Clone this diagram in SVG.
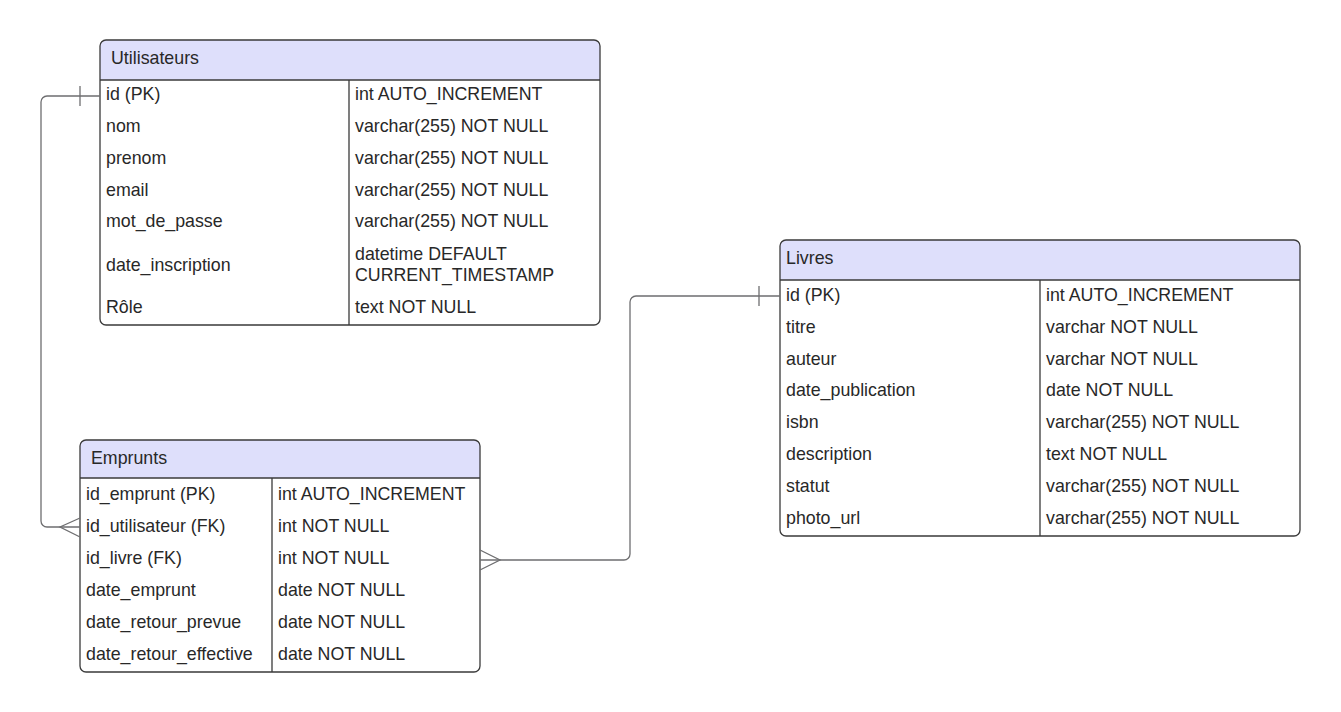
<svg xmlns="http://www.w3.org/2000/svg" width="1341" height="712" viewBox="0 0 1341 712">
  <style>
    .frame { fill: none; stroke: #3a3a3a; stroke-width: 1.3; }
    .head { fill: #dedffb; stroke: none; }
    .sep { stroke: #3a3a3a; stroke-width: 1.3; fill: none; }
    .t { font-family: "Liberation Sans", Arial, sans-serif; font-size: 17.8px; fill: #282828; }
    .conn { fill: none; stroke: #6e6e70; stroke-width: 1.3; }
  </style>
  <rect width="1341" height="712" fill="#ffffff"/>

  <!-- Utilisateurs -->
  <g id="utilisateurs">
    <path class="head" d="M100,80 V46 a6,6 0 0 1 6,-6 H594 a6,6 0 0 1 6,6 V80 Z"/>
    <rect class="frame" x="100" y="40" width="500" height="285" rx="6"/>
    <line class="sep" x1="100" y1="80" x2="600" y2="80"/>
    <line class="sep" x1="349" y1="80" x2="349" y2="325"/>
    <text class="t" x="111" y="64">Utilisateurs</text>
    <text class="t" x="106" y="100">id (PK)</text>
    <text class="t" x="355" y="100">int AUTO_INCREMENT</text>
    <text class="t" x="106" y="132">nom</text>
    <text class="t" x="355" y="132">varchar(255) NOT NULL</text>
    <text class="t" x="106" y="164">prenom</text>
    <text class="t" x="355" y="164">varchar(255) NOT NULL</text>
    <text class="t" x="106" y="196">email</text>
    <text class="t" x="355" y="196">varchar(255) NOT NULL</text>
    <text class="t" x="106" y="227">mot_de_passe</text>
    <text class="t" x="355" y="227">varchar(255) NOT NULL</text>
    <text class="t" x="106" y="271">date_inscription</text>
    <text class="t" x="355" y="260">datetime DEFAULT</text>
    <text class="t" x="355" y="281">CURRENT_TIMESTAMP</text>
    <text class="t" x="106" y="313">Rôle</text>
    <text class="t" x="355" y="313">text NOT NULL</text>
  </g>

  <!-- Emprunts -->
  <g id="emprunts">
    <path class="head" d="M80,478 V446 a6,6 0 0 1 6,-6 H474 a6,6 0 0 1 6,6 V478 Z"/>
    <rect class="frame" x="80" y="440" width="400" height="232" rx="6"/>
    <line class="sep" x1="80" y1="478" x2="480" y2="478"/>
    <line class="sep" x1="272" y1="478" x2="272" y2="672"/>
    <text class="t" x="91" y="464">Emprunts</text>
    <text class="t" x="86" y="500">id_emprunt (PK)</text>
    <text class="t" x="278" y="500">int AUTO_INCREMENT</text>
    <text class="t" x="86" y="532">id_utilisateur (FK)</text>
    <text class="t" x="278" y="532">int NOT NULL</text>
    <text class="t" x="86" y="564">id_livre (FK)</text>
    <text class="t" x="278" y="564">int NOT NULL</text>
    <text class="t" x="86" y="596">date_emprunt</text>
    <text class="t" x="278" y="596">date NOT NULL</text>
    <text class="t" x="86" y="628">date_retour_prevue</text>
    <text class="t" x="278" y="628">date NOT NULL</text>
    <text class="t" x="86" y="660">date_retour_effective</text>
    <text class="t" x="278" y="660">date NOT NULL</text>
  </g>

  <!-- Livres -->
  <g id="livres">
    <path class="head" d="M780,280 V246 a6,6 0 0 1 6,-6 H1294 a6,6 0 0 1 6,6 V280 Z"/>
    <rect class="frame" x="780" y="240" width="520" height="296" rx="6"/>
    <line class="sep" x1="780" y1="280" x2="1300" y2="280"/>
    <line class="sep" x1="1040" y1="280" x2="1040" y2="536"/>
    <text class="t" x="786" y="264">Livres</text>
    <text class="t" x="786" y="301">id (PK)</text>
    <text class="t" x="1046" y="301">int AUTO_INCREMENT</text>
    <text class="t" x="786" y="333">titre</text>
    <text class="t" x="1046" y="333">varchar NOT NULL</text>
    <text class="t" x="786" y="365">auteur</text>
    <text class="t" x="1046" y="365">varchar NOT NULL</text>
    <text class="t" x="786" y="396">date_publication</text>
    <text class="t" x="1046" y="396">date NOT NULL</text>
    <text class="t" x="786" y="428">isbn</text>
    <text class="t" x="1046" y="428">varchar(255) NOT NULL</text>
    <text class="t" x="786" y="460">description</text>
    <text class="t" x="1046" y="460">text NOT NULL</text>
    <text class="t" x="786" y="492">statut</text>
    <text class="t" x="1046" y="492">varchar(255) NOT NULL</text>
    <text class="t" x="786" y="524">photo_url</text>
    <text class="t" x="1046" y="524">varchar(255) NOT NULL</text>
  </g>

  <!-- Relationships -->
  <g id="connectors">
    <!-- Utilisateurs.id  1 ... N  Emprunts.id_utilisateur -->
    <path class="conn" d="M100,96 H47 a6,6 0 0 0 -6,6 V521 a6,6 0 0 0 6,6 H80"/>
    <line class="conn" x1="80" y1="86" x2="80" y2="106"/>
    <path class="conn" d="M80,518 L60,527 L80,537"/>
    <!-- Livres.id  1 ... N  Emprunts.id_livre -->
    <path class="conn" d="M780,296 H636 a6,6 0 0 0 -6,6 V554 a6,6 0 0 1 -6,6 H480"/>
    <line class="conn" x1="759" y1="286" x2="759" y2="306"/>
    <path class="conn" d="M480,550 L500,560 L480,570"/>
  </g>
</svg>
